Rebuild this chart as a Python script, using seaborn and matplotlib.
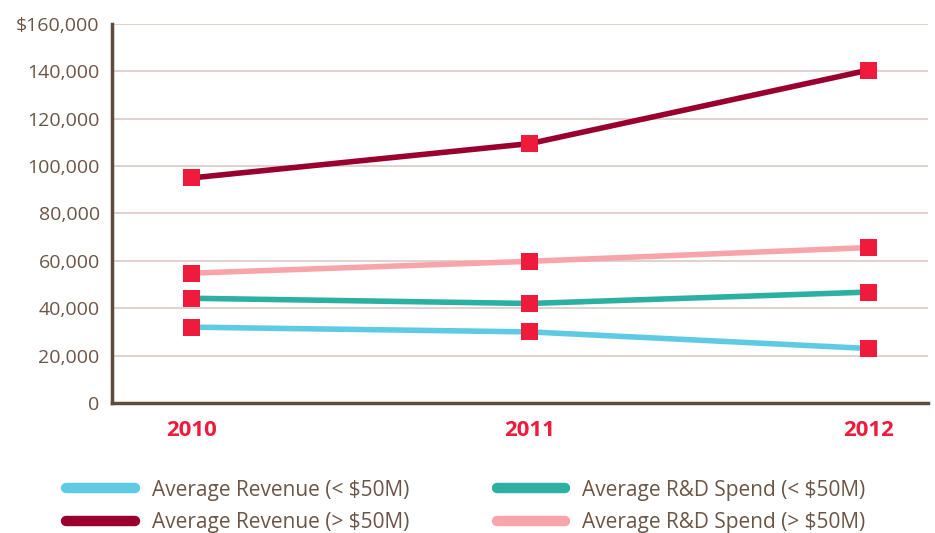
import pandas as pd
import seaborn as sns
import matplotlib.pyplot as plt
from matplotlib.lines import Line2D
from matplotlib.ticker import FuncFormatter

# Data
years = ["2010", "2011", "2012"]
rev_small = [32000, 30000, 23000]
rev_large = [95000, 109500, 140500]
rnd_small = [44200, 42000, 46800]
rnd_large = [54800, 59800, 65600]

series_names = [
    "Average Revenue (< $50M)",
    "Average R&D Spend (< $50M)",
    "Average Revenue (> $50M)",
    "Average R&D Spend (> $50M)",
]
series_values = [rev_small, rnd_small, rev_large, rnd_large]
colors = ["#5ECAE3", "#2BB0A2", "#990030", "#F7A4AB"]
marker_color = "#EE1B3C"
text_color = "#6B5547"
spine_color = "#5E4B3C"
grid_color = "#DCD0C8"

rows = []
for name, vals in zip(series_names, series_values):
    for i, (yr, v) in enumerate(zip(years, vals)):
        rows.append({"Series": name, "Year": yr, "pos": i, "Value": v})
data = pd.DataFrame(rows)

sns.set_style("white")
plt.rcParams['font.family'] = ['Open Sans', 'DejaVu Sans']

fig, ax = plt.subplots(figsize=(9.35, 5.33), dpi=100)
plt.subplots_adjust(left=0.12, right=0.992, top=0.955, bottom=0.244)

sns.lineplot(data=data, x="pos", y="Value", hue="Series",
             palette=dict(zip(series_names, colors)), linewidth=4,
             legend=False, ax=ax)
sns.scatterplot(data=data, x="pos", y="Value", marker="s", s=150,
                color=marker_color, edgecolor="none", zorder=5,
                legend=False, ax=ax)

ax.set_xlim(-0.234, 2.175)
ax.set_ylim(0, 160000)
ax.set_yticks(range(0, 160001, 20000))
ax.yaxis.set_major_formatter(FuncFormatter(
    lambda v, _: "$160,000" if v == 160000 else ("0" if v == 0 else f"{int(v):,}")))
ax.set_xticks(range(len(years)))
ax.set_xticklabels(years)
ax.set_xlabel("")
ax.set_ylabel("")

ax.grid(axis="y", color=grid_color, linewidth=1.3)
ax.set_axisbelow(True)
for loc, spine in ax.spines.items():
    if loc in ["left", "bottom"]:
        spine.set_color(spine_color)
        spine.set_linewidth(2.5)
    else:
        spine.set_visible(False)

ax.tick_params(axis="y", length=0, labelsize=14, labelcolor=text_color, pad=9)
ax.tick_params(axis="x", length=0, labelsize=16, labelcolor=marker_color, pad=12)
for lbl in ax.get_xticklabels():
    lbl.set_fontweight("bold")

handles = [Line2D([0], [0], color=c, linewidth=7.5, solid_capstyle="round")
           for c in [colors[0], colors[2], colors[1], colors[3]]]
labels = [series_names[0], series_names[2], series_names[1], series_names[3]]
fig.legend(handles, labels, loc="upper left", bbox_to_anchor=(0.071, 0.1),
           ncol=2, frameon=False, fontsize=15, labelcolor=text_color,
           handlelength=3.3, handletextpad=0.8, columnspacing=4.2,
           labelspacing=0.55, borderaxespad=0, borderpad=0)

plt.savefig("out.png", dpi=100)
